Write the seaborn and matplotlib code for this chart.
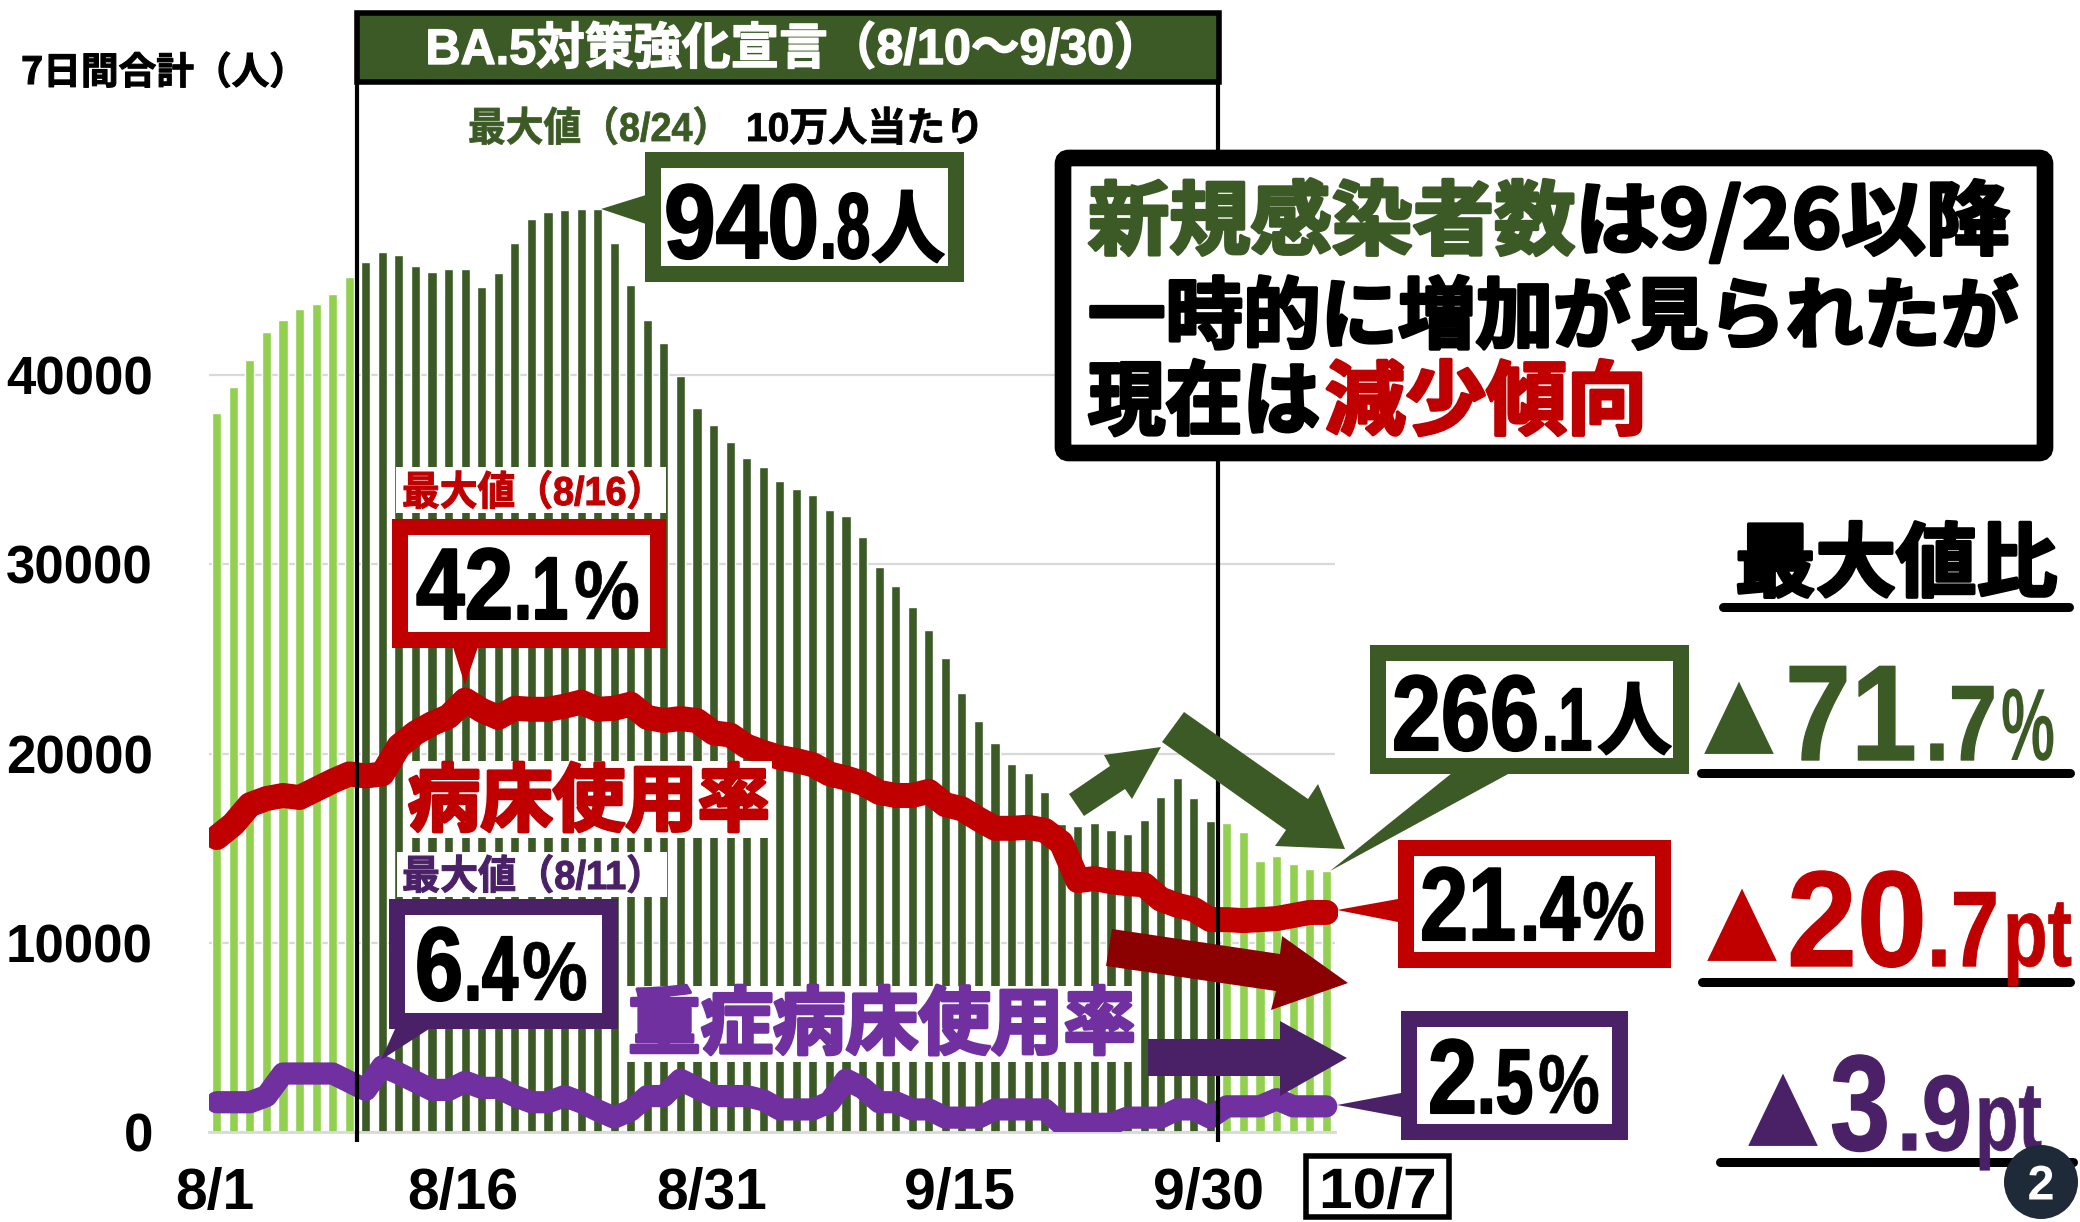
import numpy as np
import pandas as pd
import matplotlib
matplotlib.use("Agg")
import matplotlib.pyplot as plt
import matplotlib.patheffects as pe
from matplotlib.patches import Rectangle, Polygon, Circle, FancyBboxPatch
from matplotlib.transforms import Affine2D, Bbox, TransformedBbox
import seaborn as sns

# 7日間合計 (bars), 8/1 - 10/7
cases = [37980, 39370, 40790, 42310, 42900, 43500, 43770, 44290, 45190,
         46010, 46510, 46340, 45750, 45450, 45620, 45620, 44690, 45380, 46970,
         48260, 48620, 48720, 48790, 48790, 47000, 44790, 42900, 41720, 39970,
         38280, 37360, 36470, 35610, 35150, 34390, 33990, 33660, 32870, 32570,
         31450, 29890, 28840, 27750, 26520, 25040, 23190, 21730, 20550, 19460,
         18960, 17970, 16280, 16150, 16320, 15950, 15760, 16480, 17700, 18730,
         17670, 16420, 16320, 15850, 14300, 14570, 14170, 13900, 13770]

# 病床使用率 (%)
bed_rate = [28.7, 30.0, 31.9, 32.5, 32.8, 32.6, 33.4, 34.2, 34.9, 34.7, 34.9,
            37.6, 38.9, 39.8, 40.5, 42.1, 41.1, 40.4, 41.3, 41.2, 41.2, 41.5,
            41.9, 41.2, 41.3, 41.7, 40.4, 40.1, 40.3, 40.1, 38.9, 38.7, 37.6,
            37.0, 36.5, 36.2, 35.8, 34.9, 34.5, 34.0, 33.1, 32.8, 32.8, 33.2,
            31.9, 31.5, 30.5, 29.6, 29.6, 29.7, 29.4, 28.2, 24.5, 24.7, 24.4,
            24.2, 24.1, 22.7, 22.1, 21.7, 20.7, 20.7, 20.6, 20.7, 20.8, 21.1,
            21.4, 21.4]

# 重症病床使用率 (%)
severe_rate = [2.9, 2.9, 2.9, 3.5, 5.7, 5.7, 5.7, 5.7, 4.9, 4.1, 6.4, 5.7, 4.9,
               4.1, 4.1, 4.9, 4.3, 4.3, 3.5, 2.9, 2.9, 3.5, 2.9, 2.1, 1.4, 2.1,
               3.5, 3.5, 5.1, 4.3, 3.5, 3.5, 3.5, 3.1, 2.2, 2.2, 2.2, 2.9, 5.1,
               4.3, 2.9, 2.9, 2.2, 2.2, 1.4, 1.4, 1.4, 2.2, 2.2, 2.2, 2.2, 0.8,
               0.8, 0.8, 0.8, 1.4, 1.4, 1.4, 2.2, 2.2, 1.4, 2.5, 2.5, 2.5, 3.2,
               2.5, 2.5, 2.5]

y_ticks = [0, 10000, 20000, 30000, 40000]
x_tick_days = [0, 15, 30, 45, 60]
x_tick_labels = ["8/1", "8/16", "8/31", "9/15", "9/30"]

GREEN = "#3c5a25"
LIGHT = "#92d050"
RED = "#c00000"
DARK_RED = "#8b0000"
PURPLE = "#7030a0"
DARK_PURPLE = "#4a2166"
GRID = "#d9d9d9"

LATIN = ["Liberation Sans", "Noto Sans CJK JP"]
CJK = ["Noto Sans CJK JP"]

sns.set_theme(style="white")
plt.rcParams["font.family"] = ["Liberation Sans", "Noto Sans CJK JP", "DejaVu Sans"]

W, H = 2080, 1222
fig = plt.figure(figsize=(W / 100, H / 100), dpi=100)
ax = fig.add_axes([208.5 / W, 1 - 1132 / H, 1126 / W, 927 / H])

days = pd.date_range("2022-08-01", periods=len(cases))
df = pd.DataFrame({
    "day": days.strftime("%m/%d"),
    "pos": np.arange(len(cases)),
    "cases": cases,
    "bed": bed_rate,
    "severe": severe_rate,
})
# the declaration period 8/10 - 9/30 gets the dark bars
df["period"] = np.where((df["pos"] >= 9) & (df["pos"] <= 60), "in", "out")

sns.barplot(data=df, x="day", y="cases", hue="period", dodge=False, width=0.55,
            palette={"in": GREEN, "out": LIGHT}, saturation=1, legend=False,
            ax=ax, zorder=2)
ax.set_xlim(-0.5, len(cases) - 0.5)
ax.set_ylim(0, 49000)
ax.set_xlabel("")
ax.set_ylabel("")
ax.yaxis.grid(True, color=GRID, lw=1.6)
ax.set_axisbelow(True)
sns.despine(ax=ax, left=True, top=True, right=True)
ax.spines["bottom"].set_color(GRID)
ax.spines["bottom"].set_linewidth(2)

ax.set_yticks(y_ticks)
ax.set_yticklabels([str(v) for v in y_ticks], fontsize=38, fontweight="bold")
ax.tick_params(axis="y", length=0, pad=40, colors="black")
ax.set_xticks([d - 0.5 for d in x_tick_days])
ax.set_xticklabels(x_tick_labels, fontsize=41, fontweight="bold")
ax.tick_params(axis="x", length=11, width=1.5, color=GRID, pad=14, labelcolor="black")
for lab in ax.get_xticklabels():
    lab.set_transform(lab.get_transform() + Affine2D().translate(6, 0))

# the percent lines share the same baseline, 10.26 px per 1%
ax2 = ax.twinx()
sns.lineplot(data=df, x="pos", y="bed", color=RED, lw=18, ax=ax2, errorbar=None,
             solid_capstyle="round", solid_joinstyle="round")
sns.lineplot(data=df, x="pos", y="severe", color=PURPLE, lw=16, ax=ax2, errorbar=None,
             solid_capstyle="round", solid_joinstyle="round")
ax2.set_ylim(0, 927 / 10.26)
ax2.set_xlim(-0.5, len(cases) - 0.5)
ax2.set_axis_off()
for line in ax2.lines:
    line.set_clip_box(TransformedBbox(Bbox([[0, 0], [1.003, 1]]), ax2.transAxes))

# everything below is placed in picture pixels
ov = fig.add_axes([0, 0, 1, 1], facecolor="none")
ov.set_xlim(0, W)
ov.set_ylim(H, 0)
ov.set_axis_off()


class FitX(pe.AbstractPathEffect):
    """Squeeze a text sideways around its anchor, the source uses condensed type"""

    def __init__(self, x0, sx, stroke, color):
        super().__init__()
        self.x0, self.sx, self.stroke, self.color = x0, sx, stroke, color

    def draw_path(self, renderer, gc, tpath, affine, rgbFace=None):
        squeezed = affine + Affine2D().translate(-self.x0, 0).scale(self.sx, 1).translate(self.x0, 0)
        gc0 = renderer.new_gc()
        gc0.copy_properties(gc)
        gc0.set_foreground(self.color)
        gc0.set_linewidth(self.stroke)
        renderer.draw_path(gc0, tpath, squeezed, rgbFace)
        gc0.restore()


def txt(x, y, s, size, color="black", fam=LATIN, stroke=0.0, ha="left", va="baseline", zorder=10, width=None):
    t = ov.text(x, y, s, fontsize=size, color=color, family=fam, fontweight="bold",
                ha=ha, va=va, zorder=zorder)
    sx = 1.0
    natural = t.get_window_extent
    if width:
        sx = width / natural(fig.canvas.get_renderer()).width
    x0 = ov.transData.transform((x, y))[0]
    t.set_path_effects([FitX(x0, sx, stroke, color)])

    # report the squeezed box, not the natural one
    def fitted(renderer=None, dpi=None):
        bb = natural(renderer, dpi)
        return Bbox([[x0 + (bb.x0 - x0) * sx, bb.y0], [x0 + (bb.x1 - x0) * sx, bb.y1]])

    t.get_window_extent = fitted
    return t


def box(x0, y0, x1, y1, border, color, pointer=None):
    ov.add_patch(Rectangle((x0, y0), x1 - x0, y1 - y0, fc=color, ec="none", zorder=6))
    ov.add_patch(Rectangle((x0 + border, y0 + border), x1 - x0 - 2 * border, y1 - y0 - 2 * border,
                           fc="white", ec="none", zorder=7))
    if pointer:
        ov.add_patch(Polygon(pointer, fc=color, ec="none", zorder=6))


def white(x0, y0, x1, y1):
    ov.add_patch(Rectangle((x0, y0), x1 - x0, y1 - y0, fc="white", ec="none", zorder=4))


def underline(x0, x1, y, lw=6.5):
    ov.plot([x0 + 5, x1 - 5], [y, y], color="black", lw=lw, solid_capstyle="round", zorder=5)


# declaration period frame
ov.plot([357, 357], [84, 1142], color="black", lw=3, zorder=3, solid_capstyle="butt")
ov.plot([1218, 1218], [84, 1142], color="black", lw=3, zorder=3, solid_capstyle="butt")
ov.add_patch(Rectangle((357, 13), 862, 69, fc=GREEN, ec="black", lw=4, zorder=5))
txt(794, 64, "BA.5対策強化宣言（8/10〜9/30）", 36, "white", stroke=1, ha="center", zorder=6, width=737)

txt(21, 84, "7日間合計（人）", 27, fam=CJK, stroke=0.8, width=286)

# bar peak
txt(468, 141, "最大値（8/24）", 29, GREEN, stroke=0.6, width=262)
txt(746, 141, "10万人当たり", 29, stroke=0.6, width=238)
box(645, 152, 964, 282, 16, GREEN, [(601, 209), (646, 195), (646, 224)])
txt(664, 258, "940", 76, stroke=1.5, width=155)
txt(820, 258, ".8", 67, stroke=1.5, width=50)
txt(871, 256, "人", 57, fam=CJK, stroke=1.5, width=74)

# headline box
ov.add_patch(FancyBboxPatch((1063, 158), 982, 295, boxstyle="round,pad=0,rounding_size=6",
                            fc="white", ec="black", lw=12, zorder=6))
txt(1088, 248, "新規感染者数", 58, GREEN, fam=CJK, stroke=2.5, width=487)
txt(1575, 248, "は9/26以降", 58, fam=CJK, stroke=2.5, width=435)
txt(1088, 342, "一時的に増加が見られたが", 56, fam=CJK, stroke=2.5, width=930)
txt(1088, 428, "現在は", 58, fam=CJK, stroke=2.5, width=232)
txt(1325, 428, "減少傾向", 58, RED, fam=CJK, stroke=2.5, width=322)

# bed rate labels
white(396, 467, 666, 513)
txt(402, 505, "最大値（8/16）", 29, RED, stroke=0.8, zorder=5, width=262)
box(392, 519, 666, 648, 16, RED, [(453, 647), (465, 685), (478, 647)])
txt(416, 619, "42", 73, stroke=1.5, width=97)
txt(514, 619, ".1", 64, stroke=1.5, width=54)
txt(574, 619, "%", 60, stroke=0.5, width=66)
white(405, 761, 772, 838)
txt(408, 825, "病床使用率", 53, RED, fam=CJK, stroke=2.5, zorder=5, width=362)

# severe rate labels
white(397, 852, 667, 897)
txt(402, 889, "最大値（8/11）", 29, DARK_PURPLE, stroke=0.8, zorder=5, width=262)
box(389, 899, 618, 1029, 16, DARK_PURPLE, [(395, 1029), (381, 1060), (429, 1029)])
txt(415, 1000, "6", 75, stroke=1.5, width=48)
txt(464, 1000, ".4", 66, stroke=1.5, width=54)
txt(522, 1000, "%", 60, stroke=0.5, width=66)
white(625, 986, 1140, 1062)
txt(628, 1048, "重症病床使用率", 53, PURPLE, fam=CJK, stroke=2.5, zorder=5, width=508)

# trend arrows
ov.add_patch(Polygon([(1069, 794), (1084, 816), (1125, 789), (1132, 799), (1161, 747),
                      (1104, 755), (1110, 766)], fc=GREEN, ec="none", zorder=5))
ov.add_patch(Polygon([(1184, 712), (1162, 742), (1286, 830), (1275, 846), (1345, 849),
                      (1318, 784), (1308, 799)], fc=GREEN, ec="none", zorder=5))
ov.add_patch(Polygon([(1112, 929), (1106, 966), (1276, 991), (1271, 1010), (1348, 983),
                      (1282, 936), (1280, 954)], fc=DARK_RED, ec="none", zorder=5))
ov.add_patch(Polygon([(1148, 1039), (1148, 1076), (1280, 1076), (1280, 1096), (1347, 1058),
                      (1280, 1021), (1280, 1039)], fc=DARK_PURPLE, ec="none", zorder=5))

# latest values
box(1370, 645, 1689, 774, 16, GREEN, [(1452, 773), (1330, 871), (1510, 773)])
txt(1392, 750, "266", 77, stroke=1.5, width=147)
txt(1542, 750, ".1", 64, stroke=1.5, width=50)
txt(1597, 748, "人", 57, fam=CJK, stroke=1.5, width=75)

box(1398, 840, 1671, 968, 16, RED, [(1398, 899), (1337, 910), (1398, 922)])
txt(1420, 940, "21", 75, stroke=1.5, width=96)
txt(1520, 940, ".4", 66, stroke=1.5, width=60)
txt(1582, 940, "%", 60, stroke=0.5, width=63)

box(1401, 1011, 1628, 1140, 16, DARK_PURPLE, [(1401, 1093), (1337, 1105), (1401, 1117)])
txt(1428, 1113, "2", 76, stroke=1.5, width=49)
txt(1477, 1113, ".5", 66, stroke=1.5, width=56)
txt(1538, 1113, "%", 60, stroke=0.5, width=62)

# last date
ov.add_patch(Rectangle((1306, 1156), 143, 61, fc="white", ec="black", lw=4, zorder=5))
txt(1378, 1187, "10/7", 41, ha="center", va="center_baseline", width=118)

# change from the peak
txt(1735, 590, "最大値比", 58, fam=CJK, stroke=2.5, width=322)
underline(1718, 2074, 607)
txt(1702, 755, "▲", 64, GREEN, fam=CJK, width=74)
txt(1785, 760, "71", 98, GREEN, stroke=1, width=132)
txt(1925, 760, ".7", 77, GREEN, stroke=1, width=72)
txt(2001, 760, "%", 74, GREEN, width=54)
underline(1696, 2075, 773)
txt(1705, 962, "▲", 64, RED, fam=CJK, width=74)
txt(1787, 966, "20", 98, RED, stroke=1, width=140)
txt(1927, 966, ".7", 77, RED, stroke=1, width=72)
txt(2003, 966, "pt", 70, RED, stroke=0.5, width=69)
underline(1697, 2075, 982)
txt(1746, 1147, "▲", 64, DARK_PURPLE, fam=CJK, width=74)
txt(1830, 1150, "3", 98, DARK_PURPLE, stroke=1, width=60)
txt(1897, 1150, ".9", 77, DARK_PURPLE, stroke=1, width=75)
txt(1975, 1150, "pt", 70, DARK_PURPLE, stroke=0.5, width=67)
underline(1715, 2078, 1162)

# page badge
ov.add_patch(Circle((2041, 1182), 37, fc="#1f2a38", ec="none", zorder=12))
txt(2041, 1182, "2", 35, "white", ha="center", va="center_baseline", zorder=13)

fig.savefig("out.png", dpi=100, facecolor="white")
